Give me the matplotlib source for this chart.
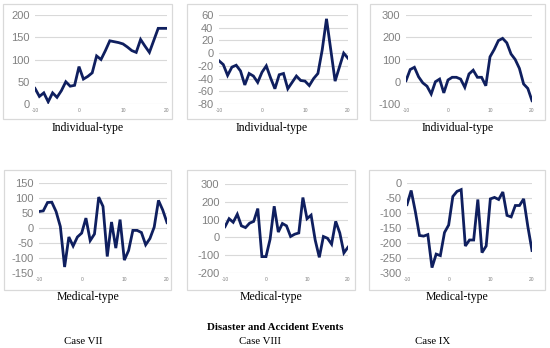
import matplotlib.pyplot as plt
from matplotlib.patches import Rectangle

plt.rcParams['axes.unicode_minus'] = False

# x positions shared by all panels
x = list(range(-10, 21))

# Individual-type series (Case VII, VIII, IX)
ind_vii = [35, 17, 25, 5, 25, 15, 30, 50, 40, 42, 84, 56, 62, 70, 108, 100, 120, 142, 140, 138,
           135, 128, 120, 116, 145, 130, 116, 143, 170, 170, 170]
ind_viii = [-12, -18, -35, -22, -19, -28, -50, -32, -36, -46, -30, -20, -39, -56, -34, -32, -56, -46,
            -36, -43, -44, -51, -40, -32, 5, 54, 5, -44, -22, 0, -8]
ind_ix = [5, 55, 65, 22, -5, -20, -55, 0, 12, -50, 8, 20, 20, 12, -25, 35, 52, 20, 20, -18,
          112, 145, 185, 195, 175, 125, 100, 60, -10, -30, -85]

# Medical-type series (Case VII, VIII, IX)
med_vii = [55, 57, 85, 86, 55, 5, -130, -30, -60, -30, -17, 33, -42, -20, 103, 72, -95, 20, -67,
           28, -107, -75, -8, -8, -15, -56, -35, 3, 92, 60, 18]
med_viii = [60, 105, 85, 130, 65, 55, 80, 90, 162, -108, -108, -10, 175, 30, 78, 65, 5, 18, 25,
            224, 105, 125, -15, -112, 5, -5, -38, 90, 25, -87, -55]
med_ix = [-72, -25, -95, -175, -177, -172, -282, -237, -242, -165, -140, -45, -28, -22, -210,
          -190, -190, -55, -232, -210, -53, -48, -55, -30, -108, -113, -75, -75, -53, -145, -225]

yticks = [
    [0, 50, 100, 150, 200],
    [-80, -60, -40, -20, 0, 20, 40, 60],
    [-100, 0, 100, 200, 300],
    [-150, -100, -50, 0, 50, 100, 150],
    [-200, -100, 0, 100, 200, 300],
    [-300, -250, -200, -150, -100, -50, 0],
]
series = [ind_vii, ind_viii, ind_ix, med_vii, med_viii, med_ix]
labels = ["Individual-type"] * 3 + ["Medical-type"] * 3
cases = ["Case VII", "Case VIII", "Case IX"]

W, H = 550, 348
fig = plt.figure(figsize=(W / 100, H / 100), dpi=100)

# pixel layout: (plot left, plot right, plot top, plot bottom), (box left, right, top, bottom)
plot_px = [(35, 167, 15, 104), (219, 348, 15, 104), (406, 532, 15, 104),
           (39, 167, 183, 273), (225, 348, 184, 273), (407, 532, 183, 273)]
box_px = [(3, 172, 4, 119), (187, 357, 4, 119), (370, 545, 4, 120),
          (4, 171, 170, 290), (187, 355, 170, 290), (369, 545, 170, 290)]
label_y = [128, 128, 128, 297, 297, 297]

line_color = "#0f1f5f"
grid_color = "#d9d9d9"
tick_color = "#808080"

for i in range(6):
    l, r, t, b = plot_px[i]
    ax = fig.add_axes([l / W, 1 - b / H, (r - l) / W, (b - t) / H])
    ax.plot(x, series[i], color=line_color, lw=2.0, solid_joinstyle="miter")
    ax.set_xlim(-10, 20)
    ax.set_ylim(yticks[i][0], yticks[i][-1])
    ax.set_xticks([-10, 0, 10, 20])
    ax.set_yticks(yticks[i])
    ax.tick_params(axis="x", length=0, labelsize=3.5, labelcolor=tick_color, pad=3)
    ax.tick_params(axis="y", length=0, labelsize=8, labelcolor=tick_color, pad=4)
    for lab in ax.get_xticklabels() + ax.get_yticklabels():
        lab.set_fontfamily("Liberation Sans")
    for s in ax.spines.values():
        s.set_visible(False)
    ax.grid(axis="y", color=grid_color, lw=0.8)
    ax.set_axisbelow(True)
    ax.patch.set_alpha(0)

    bl, br, bt, bb = box_px[i]
    fig.patches.append(Rectangle((bl / W, 1 - bb / H), (br - bl) / W, (bb - bt) / H,
                                 transform=fig.transFigure, fill=False,
                                 edgecolor=grid_color, lw=0.9))
    fig.text((bl + br) / 2 / W, 1 - label_y[i] / H, labels[i], ha="center", va="center",
             fontsize=8.5, family="Liberation Serif")

fig.text(0.5, 1 - 328 / H, "Disaster and Accident Events", ha="center", va="center",
         fontsize=7.8, family="Liberation Serif", fontweight="bold")
for cx, name in zip([83, 260, 433], cases):
    fig.text(cx / W, 1 - 342 / H, name, ha="center", va="center",
             fontsize=7.8, family="Liberation Serif")

fig.savefig("out.png", dpi=100)
